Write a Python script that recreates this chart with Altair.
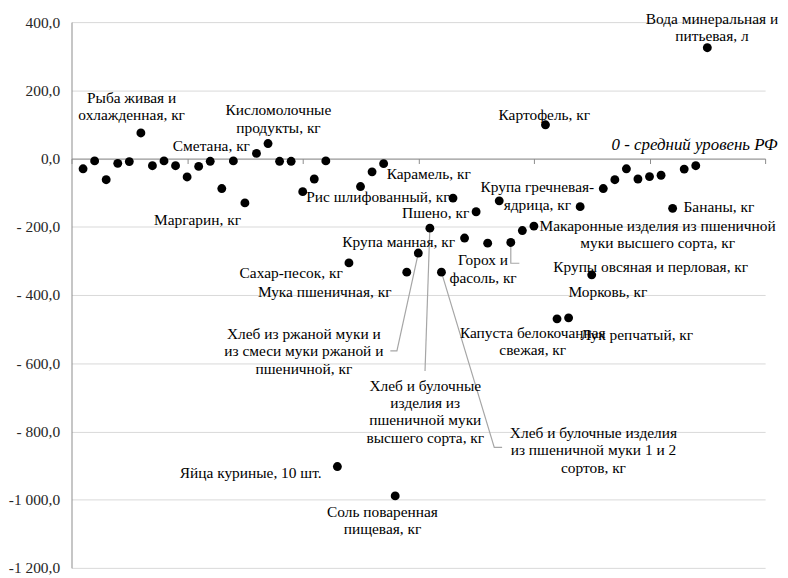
import altair as alt
import pandas as pd

# deviation from the Russian average, by product (order along the x axis)
values = [-30, -7, -62, -14, -9, 75, -21, -7, -21, -54,
          -23, -8, -88, -7, -130, 15, 44, -8, -8, -97,
          -60, -7, -903, -306, -82, -39, -15, -989, -333, -277,
          -204, -333, -116, -233, -156, -248, -124, -246, -211, -198,
          99, -470, -467, -141, -341, -88, -62, -30, -60, -53,
          -49, -146, -31, -21, 325]

# annotation labels (text, x, y of the first line, in data units)
ann_text = [
    "Рыба живая и\nохлажденная, кг",
    "Сметана, кг",
    "Кисломолочные\nпродукты, кг",
    "Маргарин, кг",
    "Рис шлифованный, кг",
    "Карамель, кг",
    "Крупа манная, кг",
    "Сахар-песок, кг",
    "Мука пшеничная, кг",
    "Хлеб из ржаной муки и\nиз смеси муки ржаной и\nпшеничной, кг",
    "Хлеб и булочные\nизделия из\nпшеничной муки\nвысшего сорта, кг",
    "Хлеб и булочные изделия\nиз пшеничной муки 1 и 2\nсортов, кг",
    "Яйца куриные, 10 шт.",
    "Соль поваренная\nпищевая, кг",
    "Картофель, кг",
    "Вода минеральная и\nпитьевая, л",
    "Крупа гречневая-\nядрица, кг",
    "Пшено, кг",
    "Макаронные изделия из пшеничной\nмуки высшего сорта, кг",
    "Горох и\nфасоль, кг",
    "Крупы овсяная и перловая, кг",
    "Морковь, кг",
    "Капуста белокочанная\nсвежая, кг",
    "Лук репчатый, кг",
    "Бананы, кг",
]
ann_x = [5.2, 12.1, 17.9, 10.9, 26.5, 30.9, 28.3, 19.0, 21.9, 20.1,
         30.6, 45.15, 15.5, 26.9, 40.9, 55.4, 40.3, 31.5, 50.7, 35.6,
         50.1, 46.4, 39.9, 48.9, 56.0]
ann_y = [177, 37, 141, -179, -114, -46, -245, -335, -392, -514,
         -666, -805, -923, -1036, 129, 410, -85, -159, -198, -298,
         -319, -390, -511, -518, -143]

note_text = ["0 - средний уровень РФ"]
note_x = [53.9]
note_y = [39]

# leader lines
leader_id = [1, 1, 1, 2, 2, 3, 3, 3, 4, 4, 4]
leader_x = [30, 28.15, 27.58, 31, 30.58, 32, 36.57, 37.25, 38, 38, 38.74]
leader_y = [-277, -564, -564, -204, -623, -333, -847, -847, -246, -307, -307]

x_ticks = [0, 10, 20, 30, 40, 50, 60]
y_ticks = [400, 200, 0, -200, -400, -600, -800, -1000, -1200]
y_tick_labels = ["400,0", "200,0", "0,0", "- 200,0", "- 400,0", "- 600,0",
                 "- 800,0", "-1 000,0", "-1 200,0"]

FONT = "Liberation Serif, Times New Roman, serif"
H = 550
W = 699

points = pd.DataFrame({"x": list(range(1, len(values) + 1)), "y": values})
ann = pd.DataFrame({"t": ann_text, "x": ann_x, "y": ann_y})
note = pd.DataFrame({"t": note_text, "x": note_x, "y": note_y})
leaders = pd.DataFrame({"id": leader_id, "x": leader_x, "y": leader_y,
                        "o": list(range(len(leader_x)))})

expr = "''"
for v, l in reversed(list(zip(y_ticks, y_tick_labels))):
    expr = f"datum.value == {v} ? '{l}' : ({expr})"

xs = alt.Scale(domain=[0, 60], nice=False)
ys = alt.Scale(domain=[-1200, 400], nice=False)

zero_offset = -(H - 400 / 1600 * H)

x_axis = alt.Axis(
    values=x_ticks, labels=False, title=None, grid=False, orient="bottom",
    offset=zero_offset, domainColor="#8c8c8c", tickColor="#8c8c8c", tickSize=5)
y_axis = alt.Axis(
    values=y_ticks, labelExpr=expr, title=None, ticks=False, grid=True,
    gridColor="#d9d9d9", domainColor="#8c8c8c", labelFont=FONT,
    labelFontSize=15.5, labelColor="#262626", labelPadding=12)


def X():
    return alt.X("x:Q", scale=xs, axis=x_axis)


def Y():
    return alt.Y("y:Q", scale=ys, axis=y_axis)


pts = alt.Chart(points).mark_point(filled=True, size=80, color="black", opacity=1).encode(
    x=X(), y=Y())

lead = alt.Chart(leaders).mark_line(color="#a6a6a6", strokeWidth=1.2).encode(
    x=X(), y=Y(), detail="id:N", order="o:Q")

labels = alt.Chart(ann).mark_text(
    font=FONT, fontSize=15.5, lineBreak="\n", lineHeight=17.5,
    align="center", baseline="middle", color="black",
).encode(x=X(), y=Y(), text="t:N")

notes = alt.Chart(note).mark_text(
    font=FONT, fontSize=17, fontStyle="italic",
    align="center", baseline="middle", color="black",
).encode(x=X(), y=Y(), text="t:N")

chart = alt.layer(lead, pts, labels, notes).properties(
    width=W, height=H,
    autosize="none",
    padding={"left": 64, "top": 12, "right": 15, "bottom": 8},
).configure_view(strokeWidth=0)

chart.save("out.html", embed_options={"renderer": "svg", "actions": False})
